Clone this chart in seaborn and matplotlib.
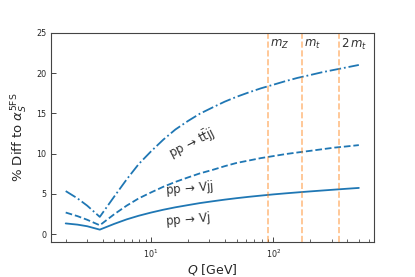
import numpy as np
import pandas as pd
import matplotlib
matplotlib.use("Agg")
import matplotlib.pyplot as plt
import seaborn as sns

sns.set_style("ticks")
plt.rcParams["font.family"] = ["DejaVu Sans"]
plt.rcParams["xtick.direction"] = "in"
plt.rcParams["ytick.direction"] = "in"

# scale Q in GeV
q = [2, 2.5, 3, 3.8, 5, 6.3, 7.9, 10, 12.6, 15.8, 20, 25, 32, 40, 50, 63, 79,
     100, 126, 158, 200, 251, 316, 398, 500]
# % difference to alpha_s 5FS
diff_vj = [1.35, 1.2, 1.0, 0.58, 1.3, 1.85, 2.3, 2.7, 3.05, 3.35, 3.62, 3.87,
           4.1, 4.3, 4.48, 4.65, 4.8, 4.95, 5.08, 5.2, 5.32, 5.43, 5.54, 5.65, 5.75]
diff_vjj = [2.7, 2.25, 1.8, 1.12, 2.5, 3.55, 4.45, 5.2, 5.9, 6.5, 7.05, 7.55,
            8.0, 8.45, 8.85, 9.15, 9.45, 9.7, 9.95, 10.15, 10.35, 10.55, 10.75, 10.9, 11.06]
diff_ttjj = [5.36, 4.45, 3.55, 2.16, 4.7, 6.8, 8.7, 10.3, 11.75, 13.0, 14.05, 14.95,
             15.75, 16.45, 17.05, 17.6, 18.1, 18.55, 19.0, 19.4, 19.75, 20.1, 20.4, 20.7, 21.0]

# reference scales
vlines = [91.19, 173.0, 346.0]
vline_labels = ["$m_Z$", "$m_t$", "$2\\,m_t$"]

df = pd.DataFrame({"Q": q, "Vj": diff_vj, "Vjj": diff_vjj, "ttjj": diff_ttjj})

fig = plt.figure(figsize=(4.15, 2.77), dpi=100)
ax = fig.add_axes([0.123, 0.125, 0.777, 0.757])

blue = "#1f77b4"
sns.lineplot(data=df, x="Q", y="Vj", ax=ax, color=blue, linestyle="-", lw=1.3)
sns.lineplot(data=df, x="Q", y="Vjj", ax=ax, color=blue, linestyle="--", lw=1.3)
sns.lineplot(data=df, x="Q", y="ttjj", ax=ax, color=blue, linestyle="-.", lw=1.3)

for xv, lab in zip(vlines, vline_labels):
    ax.axvline(xv, color="tab:orange", alpha=0.5, ls="--", lw=1.2)
    ax.text(xv * 1.03, 23.6, lab, fontsize=8.5, color="#333333", va="center", ha="left")

ax.text(21.5, 11.3, r"$\mathrm{pp\,\rightarrow\,t\bar{t}jj}$", fontsize=8.5, rotation=27,
        ha="center", va="center", color="#333333")
ax.text(20.5, 5.75, r"$\mathrm{pp\,\rightarrow\,Vjj}$", fontsize=8.5, rotation=5,
        ha="center", va="center", color="#333333")
ax.text(20.0, 1.8, r"$\mathrm{pp\,\rightarrow\,Vj}$", fontsize=8.5, rotation=5,
        ha="center", va="center", color="#333333")

ax.set_xscale("log")
ax.set_ylim(-1, 25)
ax.set_yticks([0, 5, 10, 15, 20, 25])
ax.tick_params(labelsize=5.8, length=3.5, width=0.6)
ax.tick_params(which="minor", length=2, width=0.5)
for s in ax.spines.values():
    s.set_color("#444444")
    s.set_linewidth(0.8)

ax.set_xlabel("$Q$ [GeV]", fontsize=9, labelpad=2)
ax.set_ylabel(r"% Diff to $\alpha_S^{\mathrm{5FS}}$", fontsize=9.5, labelpad=4)

fig.savefig("out.png", dpi=100)
